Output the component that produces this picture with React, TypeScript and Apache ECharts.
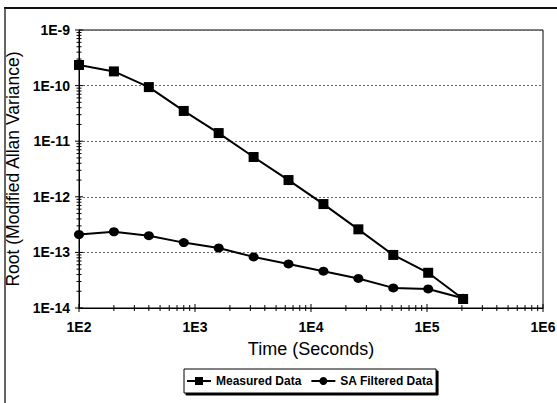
import React, { useEffect, useRef } from 'react';
import * as echarts from 'echarts';

// ---- data ----
const timeSeconds = [100, 200, 400, 800, 1600, 3200, 6400, 12800, 25600, 51200, 102400, 204800];
const measuredData = [2.35e-10, 1.8e-10, 9.4e-11, 3.5e-11, 1.4e-11, 5.2e-12, 2.0e-12, 7.4e-13, 2.6e-13, 9.0e-14, 4.3e-14, 1.45e-14];
const saFilteredData = [2.1e-13, 2.35e-13, 2.0e-13, 1.5e-13, 1.2e-13, 8.3e-14, 6.2e-14, 4.6e-14, 3.4e-14, 2.3e-14, 2.2e-14, 1.5e-14];
const seriesNames = ['Measured Data', 'SA Filtered Data'];
const xTickLabels = ['1E2', '1E3', '1E4', '1E5', '1E6'];
const yTickLabels = ['1E-14', '1E-13', '1E-12', '1E-11', '1E-10', '1E-9'];
const xAxisTitle = 'Time (Seconds)';
const yAxisTitle = 'Root (Modified Allan Variance)';

// y values are plotted in units of 1E-14 (axis runs 1E-14 .. 1E-9)
const Y_UNIT = 1e-14;
const X_MIN = 100;
const X_MAX = 1e6;
const Y_MIN = 1;
const Y_MAX = 1e5;

const FONT = 'Liberation Sans, Arial, Helvetica, sans-serif';

function buildTicks() {
  const t: number[][] = [];
  for (let d = 2; d <= 5; d++) {
    for (let k = 1; k <= 9; k++) t.push([k * Math.pow(10, d), Y_MIN, k === 1 ? 4 : 3, 0]);
  }
  t.push([X_MAX, Y_MIN, 4, 0]);
  for (let d = 0; d <= 4; d++) {
    for (let k = 1; k <= 9; k++) t.push([X_MIN, k * Math.pow(10, d), k === 1 ? 4 : 2.5, 1]);
  }
  t.push([X_MIN, Y_MAX, 4, 1]);
  return t;
}

export default function App() {
  const ref = useRef<HTMLDivElement>(null);
  useEffect(() => {
    if (!ref.current) return;
    const chart = echarts.init(ref.current, undefined, { renderer: 'svg' });
    const toPts = (arr: number[]) => arr.map((v, i) => [timeSeconds[i], v / Y_UNIT]);
    chart.setOption({
      animation: false,
      backgroundColor: '#fff',
      textStyle: { fontFamily: FONT, color: '#000' },
      grid: {
        left: 79, right: 14, top: 30, bottom: 95,
        show: true, borderColor: '#000', borderWidth: 1, backgroundColor: 'transparent',
        containLabel: false, outerBoundsMode: 'none',
      },
      graphic: [
        { type: 'line', shape: { x1: 4, y1: 8, x2: 557, y2: 8 }, style: { stroke: '#111', lineWidth: 2 } },
        { type: 'line', shape: { x1: 5, y1: 8, x2: 5, y2: 403 }, style: { stroke: '#333', lineWidth: 1.5 } },
      ],
      legend: {
        data: seriesNames,
        left: 184, top: 369,
        orient: 'horizontal',
        itemWidth: 24, itemHeight: 10, itemGap: 9,
        padding: [6, 3, 6, 2],
        borderColor: '#000', borderWidth: 1,
        backgroundColor: '#fff',
        shadowColor: '#000', shadowBlur: 0, shadowOffsetX: 2, shadowOffsetY: 2,
        textStyle: { fontFamily: FONT, fontSize: 12, fontWeight: 'bold', color: '#000' },
      },
      xAxis: {
        type: 'log', logBase: 10, min: X_MIN, max: X_MAX,
        name: xAxisTitle, nameLocation: 'middle', nameGap: 32,
        nameTextStyle: { fontFamily: FONT, fontSize: 18, color: '#000' },
        axisLine: { show: true, lineStyle: { color: '#000', width: 1 } },
        axisTick: { show: false },
        minorTick: { show: false },
        splitLine: { show: false },
        axisLabel: {
          margin: 12, fontFamily: FONT, fontSize: 14, fontWeight: 'bold', color: '#000',
          formatter: (_v: number, i: number) => xTickLabels[i] ?? '',
        },
      },
      yAxis: {
        type: 'log', logBase: 10, min: Y_MIN, max: Y_MAX,
        name: yAxisTitle, nameLocation: 'middle', nameGap: 45,
        nameTextStyle: { fontFamily: FONT, fontSize: 17.5, color: '#000' },
        axisLine: { show: true, lineStyle: { color: '#000', width: 1 } },
        axisTick: { show: false },
        minorTick: { show: false },
        splitLine: { show: true, lineStyle: { color: '#666', type: [2, 2], width: 1 } },
        axisLabel: {
          margin: 9, fontFamily: FONT, fontSize: 14, fontWeight: 'bold', color: '#000',
          formatter: (_v: number, i: number) => yTickLabels[i] ?? '',
        },
      },
      series: [
        {
          type: 'custom', name: 'ticks', silent: true, clip: false, z: 3,
          data: buildTicks(),
          encode: { x: 0, y: 1 },
          renderItem: (_p: any, api: any) => {
            const pt = api.coord([api.value(0), api.value(1)]);
            const len = api.value(2);
            const horiz = api.value(3) === 1;
            return {
              type: 'line',
              shape: horiz
                ? { x1: pt[0] - len, y1: pt[1], x2: pt[0] + len, y2: pt[1] }
                : { x1: pt[0], y1: pt[1] - len, x2: pt[0], y2: pt[1] + len },
              style: { stroke: '#000', lineWidth: 1 },
            };
          },
        },
        {
          type: 'line', name: seriesNames[0], data: toPts(measuredData),
          symbol: 'rect', symbolSize: 10,
          lineStyle: { color: '#000', width: 2 },
          itemStyle: { color: '#000' },
          z: 5,
        },
        {
          type: 'line', name: seriesNames[1], data: toPts(saFilteredData),
          symbol: 'circle', symbolSize: [10, 9],
          lineStyle: { color: '#000', width: 2 },
          itemStyle: { color: '#000' },
          z: 4,
        },
      ],
    });
    return () => chart.dispose();
  }, []);
  return (
    <div
      ref={ref}
      style={{ position: 'fixed', left: 0, top: 0, width: 557, height: 403, background: '#fff' }}
    />
  );
}
